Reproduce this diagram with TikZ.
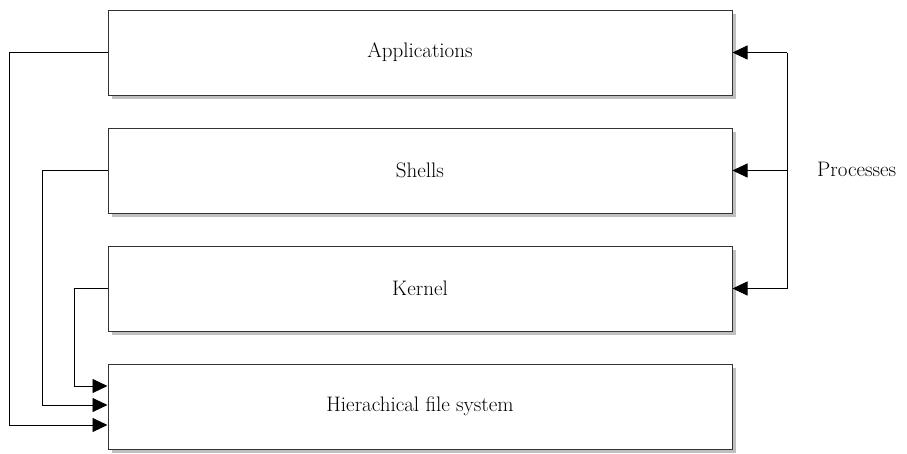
\documentclass[tikz,border=0pt]{standalone}
\usetikzlibrary{arrows.meta}

\tikzset{
  layer/.style={draw=black!80,line width=1pt,fill=white,minimum width=624pt,minimum height=85pt,font=\fontsize{21}{25}\selectfont},
  arr/.style={line width=0.9pt,-{Triangle[length=15pt,width=14pt]}}
}

\begin{document}
\begin{tikzpicture}[x=1pt,y=-1pt]
		\useasboundingbox (0,0) rectangle (907,453);

		% shadows
		\foreach \t in {10,128,246,364}
			\fill[black!25] (112,\t+4) rectangle (736,\t+89);

		\node[layer] (app)   at (420,52.5)  {Applications};
		\node[layer] (shell) at (420,170.5) {Shells};
		\node[layer] (kern)  at (420,288.5) {Kernel};
		\node[layer] (fs)    at (420,406.5) {Hierachical file system};

		% processes
		\coordinate (bus) at (787,0);
		\node[anchor=west,inner sep=0pt,font=\fontsize{21}{25}\selectfont] (proc) at (817,169) {Processes};
		\draw[line width=0.9pt] (bus |- app.east) -- (bus |- kern.east);
		\draw[arr] (bus |- app.east)   -- (app.east);
		\draw[arr] (bus |- shell.east) -- (shell.east);
		\draw[arr] (bus |- kern.east)  -- (kern.east);

		% to the file system
		\draw[arr] (app.west)   -| (9,425)  -- ([yshift=-18.5pt]fs.west);
		\draw[arr] (shell.west) -| (42,405) -- ([yshift=1.5pt]fs.west);
		\draw[arr] (kern.west)  -| (74,386) -- ([yshift=20.5pt]fs.west);
	\end{tikzpicture}
\end{document}
